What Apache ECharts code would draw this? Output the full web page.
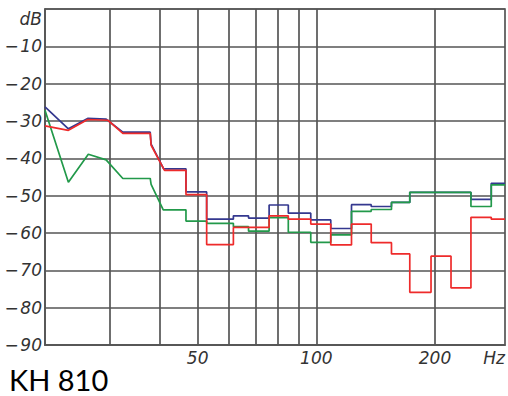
<!DOCTYPE html>
<html>
<head>
<meta charset="utf-8">
<script src="https://cdn.jsdelivr.net/npm/echarts@6/dist/echarts.min.js"></script>
<style>
html,body{margin:0;padding:0;background:#fff;}
#chart{width:508px;height:396px;}
</style>
</head>
<body>
<div id="chart"></div>
<script>
// Frequency grid (Hz) and axis labels
const xGridValues = [30, 40, 50, 60, 70, 80, 90, 100, 200];
const xLabelValues = [50, 100, 200];

// Blue curve vertices (frequency Hz, level dB)
const blueFreq = [20.5, 23.5, 26.3, 29.3, 32.3, 37.9, 38.1, 41.0, 46.7, 46.7, 52.7, 52.7, 61.6, 61.6, 67.3, 67.3, 75.9, 75.9, 84.9, 84.9, 96.8, 96.8, 108.8, 108.8, 122.8, 122.8, 137.8, 137.8, 155.1, 155.1, 172.6, 172.6, 246.7, 246.7, 277.8, 277.8, 301];
const blueDb   = [-26.2, -32.1, -29.3, -29.5, -33.0, -33.0, -36.2, -42.8, -42.8, -49.0, -49.0, -56.3, -56.3, -55.4, -55.4, -56.0, -56.0, -52.5, -52.5, -54.7, -54.7, -56.5, -56.5, -58.8, -58.8, -52.4, -52.4, -52.9, -52.9, -51.8, -51.8, -49.1, -49.1, -51.0, -51.0, -46.7, -46.7];

// Green curve vertices
const greenFreq = [20.5, 23.5, 26.4, 29.3, 32.3, 37.9, 38.1, 40.9, 46.7, 46.7, 52.7, 52.7, 61.6, 61.6, 67.3, 67.3, 75.9, 75.9, 84.9, 84.9, 96.8, 96.8, 108.8, 108.8, 122.8, 122.8, 137.8, 137.8, 155.1, 155.1, 172.6, 172.6, 246.7, 246.7, 277.8, 277.8, 301];
const greenDb   = [-27.1, -46.4, -38.9, -40.4, -45.4, -45.4, -47.0, -53.8, -53.8, -56.8, -56.8, -57.4, -57.4, -58.3, -58.3, -59.5, -59.5, -55.9, -55.9, -59.8, -59.8, -62.5, -62.5, -60.5, -60.5, -54.2, -54.2, -53.7, -53.7, -51.8, -51.8, -49.1, -49.1, -52.9, -52.9, -47.1, -47.1];

// Red curve vertices
const redFreq = [20.5, 23.5, 26.3, 29.6, 32.3, 37.9, 38.1, 41.2, 46.7, 46.7, 52.7, 52.7, 61.6, 61.6, 75.9, 75.9, 84.9, 84.9, 96.8, 96.8, 108.8, 108.8, 122.8, 122.8, 137.8, 137.8, 155.1, 155.1, 172.6, 172.6, 195.4, 195.4, 219.6, 219.6, 246.7, 246.7, 277.8, 277.8, 301];
const redDb   = [-31.3, -32.5, -29.6, -29.8, -33.3, -33.3, -36.5, -43.2, -43.2, -49.7, -49.7, -63.1, -63.1, -58.5, -58.5, -55.4, -55.4, -56.3, -56.3, -57.6, -57.6, -63.2, -63.2, -57.6, -57.6, -62.6, -62.6, -65.6, -65.6, -75.9, -75.9, -66.2, -66.2, -74.7, -74.7, -55.8, -55.8, -56.3, -56.3];

const pairs = (f, d) => f.map((v, i) => [v, d[i]]);

const gridColor = '#555';
const gridWidth = 1.7;
const labelFont = { fontFamily: 'DejaVu Sans', fontStyle: 'italic', fontSize: 17, color: '#333' };

const chart = echarts.init(document.getElementById('chart'), null, { renderer: 'svg' });
chart.setOption({
  animation: false,
  backgroundColor: '#fff',
  title: {
    text: 'KH 810',
    left: 9,
    top: 364,
    padding: 0,
    textStyle: { fontFamily: 'Lato', fontWeight: 'normal', fontSize: 29, lineHeight: 30, color: '#000' }
  },
  grid: {
    left: 45, right: 1, top: 9, bottom: 51,
    show: true, borderColor: gridColor, borderWidth: gridWidth
  },
  xAxis: {
    type: 'log',
    min: 20.5,
    max: 301,
    axisLine: { show: true, onZero: false, lineStyle: { color: gridColor, width: gridWidth } },
    axisTick: { show: false, customValues: xGridValues },
    axisLabel: Object.assign({ customValues: xLabelValues, margin: 4 }, labelFont),
    splitLine: { show: true, lineStyle: { color: gridColor, width: gridWidth } },
    name: 'Hz',
    nameLocation: 'end',
    nameGap: 0,
    nameTextStyle: Object.assign({ align: 'right', verticalAlign: 'top', padding: [4, 0, 0, 0] }, labelFont)
  },
  yAxis: {
    type: 'value',
    min: -90,
    max: 0,
    interval: 10,
    name: 'dB',
    nameLocation: 'end',
    nameGap: -10,
    nameTextStyle: Object.assign({ align: 'right', verticalAlign: 'middle', padding: [0, 3, 0, 0] }, labelFont),
    axisLine: { show: true, lineStyle: { color: gridColor, width: gridWidth } },
    axisTick: { show: false },
    axisLabel: Object.assign({
      margin: 3,
      formatter: v => v === 0 ? '' : '\u2212\u200a' + Math.abs(v)
    }, labelFont),
    splitLine: { show: true, lineStyle: { color: gridColor, width: gridWidth } }
  },
  series: [
    { type: 'line', data: pairs(blueFreq, blueDb), showSymbol: false, lineStyle: { color: '#34388f', width: 1.7 }, z: 2 },
    { type: 'line', data: pairs(greenFreq, greenDb), showSymbol: false, lineStyle: { color: '#22994a', width: 1.7 }, z: 3 },
    { type: 'line', data: pairs(redFreq, redDb), showSymbol: false, lineStyle: { color: '#ee2b2b', width: 1.7 }, z: 4 }
  ]
});
</script>
</body>
</html>
